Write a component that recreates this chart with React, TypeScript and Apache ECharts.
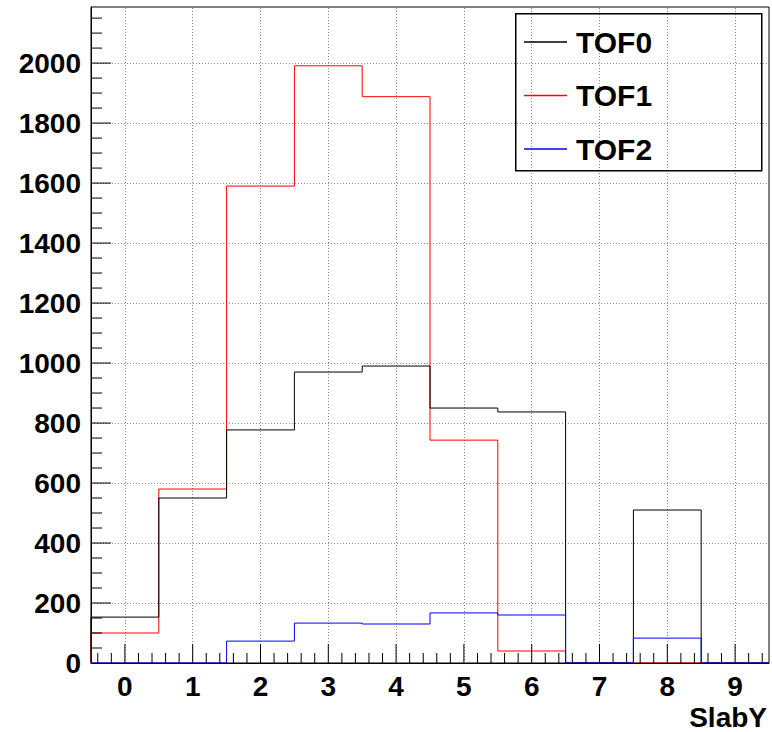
import React, { useEffect, useRef } from "react";
import * as echarts from "echarts";

const BINS = [0, 1, 2, 3, 4, 5, 6, 7, 8, 9];
const TOF0 = [153, 550, 777, 970, 990, 850, 837, 0, 510, 0];
const TOF1 = [100, 580, 1590, 1991, 1888, 743, 40, 0, 0, 0];
const TOF2 = [0, 0, 73, 133, 130, 167, 160, 0, 83, 0];
const SERIES_NAMES = ["TOF0", "TOF1", "TOF2"];
const X_LABELS = ["0", "1", "2", "3", "4", "5", "6", "7", "8", "9"];
const X_MIN = -0.5;
const X_MAX = 9.5;
const Y_MAX = 2187;
const Y_STEP = 200;
const Y_MINOR = 50;
const X_MINOR = 0.2;

function stepPoints(vals: number[]): number[][] {
  const pts: number[][] = [[BINS[0] - 0.5, 0]];
  vals.forEach((v, i) => {
    pts.push([BINS[i] - 0.5, v]);
    pts.push([BINS[i] + 0.5, v]);
  });
  pts.push([BINS[BINS.length - 1] + 0.5, 0]);
  return pts;
}

function xMinorValues(): number[] {
  const out: number[] = [];
  const k0 = Math.ceil(X_MIN / X_MINOR);
  const k1 = Math.floor(X_MAX / X_MINOR);
  for (let k = k0; k <= k1; k++) {
    const v = Math.round(k * X_MINOR * 10) / 10;
    if (v <= X_MIN || v >= X_MAX) continue;
    if (Math.abs(v - Math.round(v)) < 1e-6) continue;
    out.push(v);
  }
  return out;
}

function yValues(major: boolean): number[] {
  const out: number[] = [];
  for (let v = Y_MINOR; v < Y_MAX; v += Y_MINOR) {
    const isMajor = v % Y_STEP === 0;
    if (isMajor === major) out.push(v);
  }
  return out;
}

function tickSeries(values: number[], axis: "x" | "y", len: number) {
  return {
    type: "custom",
    silent: true,
    clip: false,
    z: 3,
    data: values.map((v) => (axis === "x" ? [v, 0] : [X_MIN, v])),
    renderItem: (params: any, api: any) => {
      const p = api.coord([api.value(0), api.value(1)]);
      const shape =
        axis === "x"
          ? { x1: p[0], y1: p[1], x2: p[0], y2: p[1] - len }
          : { x1: p[0], y1: p[1], x2: p[0] + len, y2: p[1] };
      return { type: "line", shape, style: { stroke: "#000", lineWidth: 1 } };
    },
  };
}

export default function App() {
  const ref = useRef<HTMLDivElement>(null);
  useEffect(() => {
    if (!ref.current) return;
    const chart = echarts.init(ref.current, null, { renderer: "svg" });
    const font = "'Liberation Sans', Arial, Helvetica, sans-serif";
    const colors = ["#000000", "#ff0000", "#0000ff"];
    const zs = [2, 1, 5];
    const datasets = [TOF0, TOF1, TOF2];
    chart.setOption({
      animation: false,
      backgroundColor: "#ffffff",
      grid: {
        left: 91,
        top: 7,
        right: 3,
        bottom: 69,
        show: true,
        borderColor: "#000",
        borderWidth: 1,
        containLabel: false,
        outerBoundsMode: "none",
      },
      xAxis: {
        type: "value",
        min: X_MIN,
        max: X_MAX,
        interval: 0.5,
        z: 3,
        name: "SlabY",
        nameLocation: "end",
        nameGap: -2,
        nameTextStyle: {
          fontFamily: font,
          fontWeight: "bold",
          fontSize: 28,
          color: "#000",
          align: "right",
          verticalAlign: "top",
          padding: [40, 0, 0, 0],
        },
        axisLine: { show: true, onZero: false, lineStyle: { color: "#000", width: 1 } },
        axisTick: { show: false },
        splitLine: { show: false },
        axisLabel: {
          margin: 9,
          fontFamily: font,
          fontWeight: "bold",
          fontSize: 28,
          color: "#000",
          formatter: (v: number) => {
            const idx = BINS.indexOf(v);
            return idx >= 0 ? X_LABELS[idx] : "";
          },
        },
      },
      yAxis: {
        type: "value",
        min: 0,
        max: Y_MAX,
        interval: Y_STEP,
        axisLine: { show: true, onZero: false, lineStyle: { color: "#000", width: 1 } },
        axisTick: { show: false },
        splitLine: {
          show: true,
          lineStyle: { color: "#888", width: 1, type: [1, 2] },
        },
        axisLabel: {
          margin: 10,
          showMaxLabel: false,
          fontFamily: font,
          fontWeight: "bold",
          fontSize: 28,
          color: "#000",
          formatter: (v: number) => String(v),
        },
      },
      legend: {
        orient: "vertical",
        left: 519,
        top: 22,
        itemWidth: 43,
        itemHeight: 1.5,
        itemGap: 23.5,
        icon: "rect",
        data: SERIES_NAMES,
        textStyle: {
          fontFamily: font,
          fontWeight: "bold",
          fontSize: 30,
          lineHeight: 28,
          color: "#000",
          padding: [0, 0, 0, 4],
        },
      },
      graphic: [
        {
          type: "rect",
          left: 515,
          top: 13,
          shape: { width: 246, height: 157 },
          style: { fill: "rgba(0,0,0,0)", stroke: "#000", lineWidth: 1.5 },
          z: 100,
          silent: true,
        },
      ],
      series: [
        tickSeries(BINS, "x", 19),
        tickSeries(xMinorValues(), "x", 10),
        tickSeries(yValues(true), "y", 20),
        tickSeries(yValues(false), "y", 11),
        ...SERIES_NAMES.map((name, i) => ({
          type: "line",
          name,
          data: stepPoints(datasets[i]),
          symbol: "none",
          showSymbol: false,
          z: zs[i],
          lineStyle: { color: colors[i], width: 1 },
          itemStyle: { color: colors[i] },
          markLine:
            i === 0
              ? {
                  silent: true,
                  symbol: "none",
                  label: { show: false },
                  z: 0,
                  lineStyle: { color: "#888", width: 1, type: [1, 2] },
                  data: BINS.map((b) => ({ xAxis: b })),
                }
              : undefined,
        })),
      ],
    });
    return () => chart.dispose();
  }, []);
  return <div ref={ref} style={{ width: 772, height: 732, position: "absolute", left: 0, top: 0 }} />;
}
